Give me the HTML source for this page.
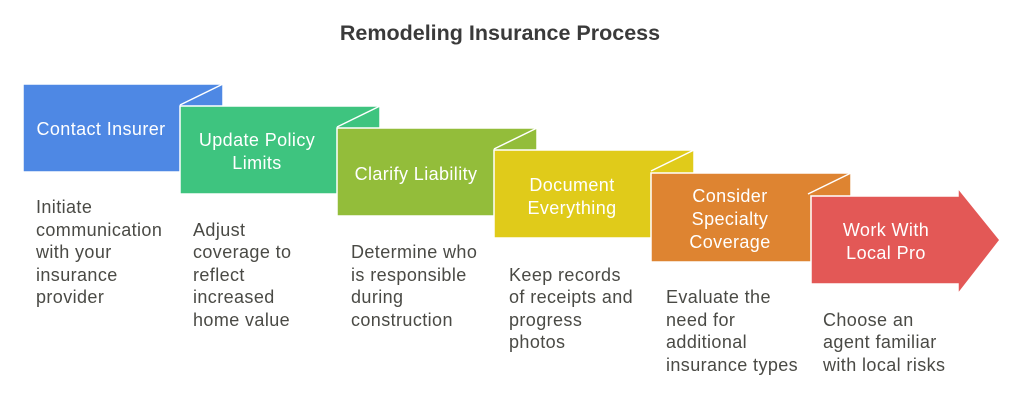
<!DOCTYPE html>
<html><head><meta charset="utf-8"><style>
html,body{margin:0;padding:0;background:#fff;}
svg{display:block;font-family:"Liberation Sans",sans-serif;}
</style></head><body>
<svg width="1024" height="400" viewBox="0 0 1024 400" xmlns="http://www.w3.org/2000/svg">
<text x="500" y="40" text-anchor="middle" font-size="21.5" font-weight="bold" fill="#3a3a3a">Remodeling Insurance Process</text>
<g stroke="#fff" stroke-width="1.5">
<rect x="23" y="84" width="200" height="88" fill="#4e88e4"/>
<line x1="223" y1="84" x2="180" y2="105"/>
<rect x="180" y="106" width="200" height="88" fill="#3ec47f"/>
<line x1="380" y1="106" x2="337" y2="127"/>
<rect x="337" y="128" width="200" height="88" fill="#93bd3a"/>
<line x1="537" y1="128" x2="494" y2="149"/>
<rect x="494" y="150" width="200" height="88" fill="#e0cb1a"/>
<line x1="694" y1="150" x2="651" y2="171"/>
<rect x="651" y="173" width="200" height="89" fill="#de8431"/>
<line x1="851" y1="173" x2="808" y2="194"/>
<polygon points="811,196 958,196 958,188 1000,240 958,294 958,284 811,284" fill="#e35856"/>
</g>
<g fill="#fff" font-size="18" letter-spacing="0.4" text-anchor="middle">
<text x="101" y="135">Contact Insurer</text>
<text x="257" y="146">Update Policy</text><text x="257" y="169">Limits</text>
<text x="416" y="180">Clarify Liability</text>
<text x="572" y="191">Document</text><text x="572" y="214">Everything</text>
<text x="730" y="202">Consider</text><text x="730" y="225">Specialty</text><text x="730" y="248">Coverage</text>
<text x="886" y="236">Work With</text><text x="886" y="259">Local Pro</text>
</g>
<g font-size="18" letter-spacing="0.4" fill="#4a4a45">
<text x="36" y="213">Initiate</text><text x="36" y="236">communication</text><text x="36" y="258">with your</text><text x="36" y="281">insurance</text><text x="36" y="303">provider</text>
<text x="193" y="236">Adjust</text><text x="193" y="258">coverage to</text><text x="193" y="281">reflect</text><text x="193" y="303">increased</text><text x="193" y="326">home value</text>
<text x="351" y="258">Determine who</text><text x="351" y="281">is responsible</text><text x="351" y="303">during</text><text x="351" y="326">construction</text>
<text x="509" y="281">Keep records</text><text x="509" y="303">of receipts and</text><text x="509" y="326">progress</text><text x="509" y="348">photos</text>
<text x="666" y="303">Evaluate the</text><text x="666" y="326">need for</text><text x="666" y="348">additional</text><text x="666" y="371">insurance types</text>
<text x="823" y="326">Choose an</text><text x="823" y="348">agent familiar</text><text x="823" y="371">with local risks</text>
</g>
</svg>
</body></html>
